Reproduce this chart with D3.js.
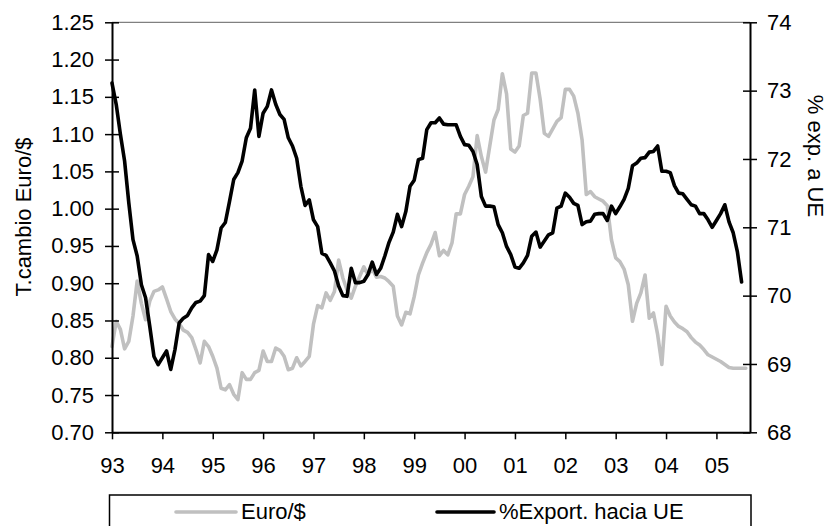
<!DOCTYPE html>
<html>
<head>
<meta charset="utf-8">
<script src="https://cdn.jsdelivr.net/npm/d3@7"></script>
<style>
  html, body { margin: 0; padding: 0; background: #fff; }
  svg { display: block; }
  text { font-family: "Liberation Sans", Arial, sans-serif; fill: #000; }
</style>
</head>
<body>
<svg id="chart" width="837" height="526"></svg>
<script>
// ---- data (monthly, Jan 1993 onward) ----
const yearLabels = ["93","94","95","96","97","98","99","00","01","02","03","04","05"];
const leftTicks = [0.70,0.75,0.80,0.85,0.90,0.95,1.00,1.05,1.10,1.15,1.20,1.25];
const rightTicks = [68,69,70,71,72,73,74];
const seriesNames = ["Euro/$", "%Export. hacia UE"];

const euroDollar = [
0.815,0.849,0.838,0.812,0.822,0.856,0.903,0.873,0.851,0.876,0.889,0.891,
0.895,0.879,0.862,0.852,0.846,0.837,0.834,0.827,0.811,0.793,0.822,0.815,
0.802,0.786,0.759,0.757,0.764,0.751,0.744,0.780,0.771,0.771,0.780,0.783,
0.809,0.795,0.795,0.813,0.810,0.802,0.784,0.786,0.800,0.789,0.795,0.802,
0.845,0.870,0.867,0.887,0.877,0.889,0.931,0.907,0.891,0.880,0.896,0.909,
0.922,0.911,0.919,0.908,0.909,0.907,0.902,0.896,0.856,0.844,0.861,0.859,
0.882,0.911,0.927,0.941,0.952,0.968,0.937,0.944,0.938,0.954,0.993,0.993,
1.019,1.030,1.043,1.098,1.070,1.049,1.084,1.119,1.133,1.181,1.154,1.080,
1.076,1.084,1.125,1.128,1.182,1.182,1.147,1.101,1.097,1.107,1.117,1.122,
1.160,1.160,1.151,1.128,1.092,1.019,1.023,1.016,1.013,1.010,1.004,0.958,
0.934,0.929,0.919,0.898,0.849,0.873,0.887,0.911,0.853,0.860,0.831,0.791,
0.869,0.856,0.848,0.842,0.839,0.835,0.827,0.821,0.817,0.811,0.804,0.801,
0.798,0.795,0.791,0.787,0.786,0.786,0.786,0.786
];

const exportUE = [
73.11,72.80,72.36,71.97,71.36,70.82,70.58,70.16,69.97,69.55,69.11,68.99,
69.09,69.19,68.92,69.21,69.60,69.67,69.71,69.82,69.90,69.92,70.00,70.60,
70.50,70.67,70.99,71.07,71.38,71.70,71.80,71.97,72.31,72.45,73.01,72.33,
72.67,72.77,73.01,72.80,72.65,72.58,72.31,72.19,72.01,71.60,71.32,71.40,
71.11,71.01,70.62,70.59,70.48,70.36,70.14,70.00,69.99,70.40,70.19,70.19,
70.21,70.31,70.49,70.31,70.40,70.58,70.78,70.93,71.19,71.01,71.23,71.60,
71.69,71.99,72.01,72.43,72.53,72.53,72.60,72.51,72.50,72.50,72.50,72.33,
72.21,72.20,72.11,71.92,71.45,71.31,71.31,71.30,71.04,70.92,70.72,70.60,
70.42,70.40,70.48,70.59,70.87,70.93,70.71,70.80,70.89,70.92,71.28,71.31,
71.50,71.44,71.35,71.32,71.04,71.08,71.09,71.19,71.20,71.20,71.10,71.31,
71.20,71.30,71.41,71.57,71.90,71.94,72.01,72.02,72.10,72.11,72.19,71.82,
71.82,71.80,71.61,71.50,71.49,71.41,71.33,71.31,71.20,71.20,71.11,71.00,
71.10,71.20,71.33,71.08,70.92,70.64,70.20
];

// ---- layout ----
const L = 112, R = 750, T = 22.3, B = 432.3;
const FS = 22;
const svg = d3.select("#chart");

const x = d3.scaleLinear().domain([0, 152]).range([L, R]);
const yL = d3.scaleLinear().domain([0.70, 1.25]).range([B, T]);
const yR = d3.scaleLinear().domain([68, 74]).range([B, T]);

// top border
svg.append("line").attr("x1", L).attr("x2", R).attr("y1", T).attr("y2", T)
  .attr("stroke", "#808080").attr("stroke-width", 1.2);

// lines
const lineL = d3.line().x((d, i) => x(i)).y(d => yL(d));
const lineR = d3.line().x((d, i) => x(i)).y(d => yR(d));

svg.append("path").datum(euroDollar).attr("d", lineL)
  .attr("fill", "none").attr("stroke", "#c0c0c0").attr("stroke-width", 3.6)
  .attr("stroke-linejoin", "round").attr("stroke-linecap", "round");
svg.append("path").datum(exportUE).attr("d", lineR)
  .attr("fill", "none").attr("stroke", "#000").attr("stroke-width", 3.6)
  .attr("stroke-linejoin", "round").attr("stroke-linecap", "round");

// left axis
const gL = svg.append("g").attr("transform", `translate(${L},0)`)
  .call(d3.axisLeft(yL).tickValues(leftTicks).tickFormat(d3.format(".2f"))
    .tickSizeInner(7).tickSizeOuter(0).tickPadding(11));
gL.selectAll(".tick line").attr("x1", 7).attr("x2", -7).attr("stroke", "#000").attr("stroke-width", 1.5);
gL.select(".domain").attr("stroke", "#000").attr("stroke-width", 2);
gL.selectAll("text").attr("font-size", FS).attr("font-family", "Liberation Sans, Arial, sans-serif");

// right axis
const gR = svg.append("g").attr("transform", `translate(${R},0)`)
  .call(d3.axisRight(yR).tickValues(rightTicks).tickFormat(d3.format("d"))
    .tickSizeInner(7).tickSizeOuter(0).tickPadding(10));
gR.selectAll(".tick line").attr("x1", -7).attr("x2", 7).attr("stroke", "#000").attr("stroke-width", 1.5);
gR.select(".domain").attr("stroke", "#000").attr("stroke-width", 2);
gR.selectAll("text").attr("font-size", FS).attr("font-family", "Liberation Sans, Arial, sans-serif");

// bottom axis
const gB = svg.append("g").attr("transform", `translate(0,${B})`)
  .call(d3.axisBottom(x).tickValues(d3.range(0, 145, 12)).tickFormat((d, i) => yearLabels[i])
    .tickSizeInner(7).tickSizeOuter(0).tickPadding(18));
gB.selectAll(".tick line").attr("stroke", "#000").attr("stroke-width", 1.5);
gB.select(".domain").attr("stroke", "#000").attr("stroke-width", 2);
gB.selectAll("text").attr("font-size", FS).attr("font-family", "Liberation Sans, Arial, sans-serif");

// axis titles
svg.append("text").attr("transform", "translate(23,217) rotate(-90)")
  .attr("text-anchor", "middle").attr("dominant-baseline", "central")
  .attr("font-size", FS).text("T.cambio Euro/$");
svg.append("text").attr("transform", "translate(815,156) rotate(90)")
  .attr("text-anchor", "middle").attr("dominant-baseline", "central")
  .attr("font-size", FS).text("% exp. a UE");

// legend
const lg = svg.append("g");
lg.append("rect").attr("x", 109.5).attr("y", 495).attr("width", 641.5).attr("height", 45)
  .attr("fill", "#fff").attr("stroke", "#000").attr("stroke-width", 1.5);
const legendItems = [
  { name: seriesNames[0], color: "#c0c0c0", x0: 176, x1: 236, tx: 241 },
  { name: seriesNames[1], color: "#000", x0: 437, x1: 494, tx: 499 }
];
legendItems.forEach(it => {
  lg.append("line").attr("x1", it.x0).attr("x2", it.x1).attr("y1", 512).attr("y2", 512)
    .attr("stroke", it.color).attr("stroke-width", 3.6).attr("stroke-linecap", "round");
  lg.append("text").attr("x", it.tx).attr("y", 519).attr("font-size", FS).text(it.name);
});
</script>
</body>
</html>
